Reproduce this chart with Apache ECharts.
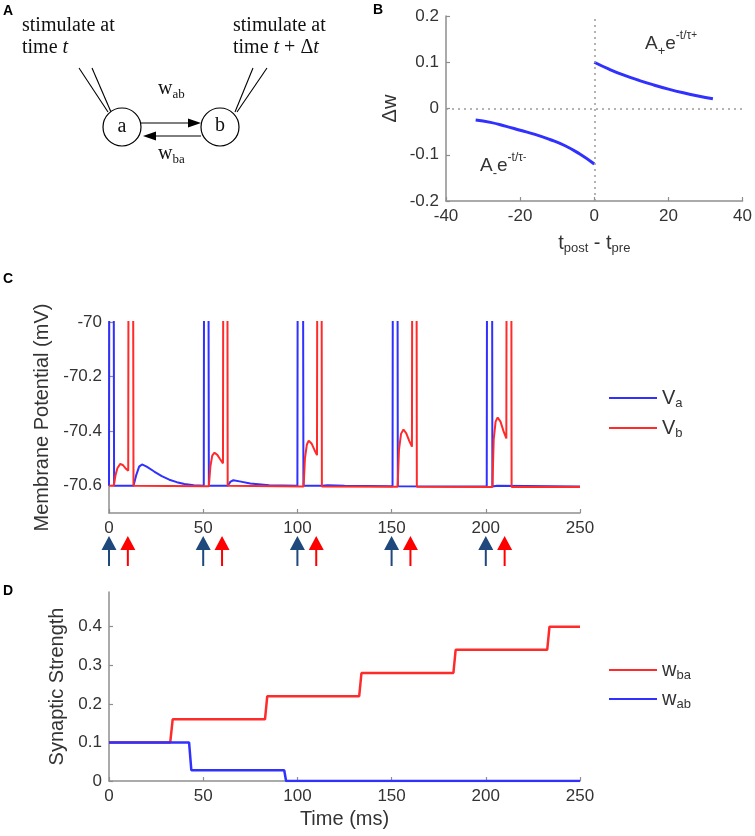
<!DOCTYPE html>
<html><head><meta charset="utf-8">
<script src="https://cdn.jsdelivr.net/npm/echarts@6/dist/echarts.min.js"></script>
<style>html,body{margin:0;padding:0;background:#fff}#c{width:755px;height:836px}</style>
</head><body><div id="c"></div>
<script>
// ---------- Panel B: STDP window ----------
const stdpNegT = [-32, -28, -24, -20, -16, -12, -8, -4, 0];
const stdpNegV = [-0.025, -0.03, -0.038, -0.047, -0.056, -0.067, -0.08, -0.098, -0.12];
const stdpPosT = [0, 4, 8, 12, 16, 20, 24, 28, 32];
const stdpPosV = [0.1, 0.085, 0.072, 0.061, 0.051, 0.042, 0.034, 0.027, 0.021];
const bXTicks = [-40, -20, 0, 20, 40];
const bYTicks = [-0.2, -0.1, 0, 0.1, 0.2];

// ---------- Panel C: membrane potentials ----------
const vaT = [0, 0.3, 2.3, 2.7, 13, 14.5, 16, 17.5, 20, 24, 28, 32, 36, 40, 45, 50.3, 50.6, 52.6, 53,
  63, 64.5, 66, 70, 75, 85, 100, 100.3, 102.8, 103.2, 113, 116, 125, 150.5, 150.8, 153, 153.3,
  200.5, 200.8, 203.2, 203.5, 206, 250];
const vaV = [-70.6, -69, -69, -70.6, -70.6, -70.56, -70.53, -70.522, -70.53, -70.548, -70.565, -70.578, -70.587, -70.594, -70.598, -70.6, -69, -69, -70.6,
  -70.6, -70.585, -70.58, -70.585, -70.592, -70.598, -70.6, -69, -69, -70.6, -70.6, -70.598, -70.6, -70.602, -69, -69, -70.602,
  -70.603, -69, -69, -70.603, -70.6, -70.603];
const vbT = [0, 2.5, 3.5, 4.5, 6, 7.5, 9, 10.2, 10.5, 12.6, 13,
  53, 53.8, 54.8, 56, 57.5, 59, 60.5, 60.8, 62.7, 63,
  103.3, 104, 105, 106, 107.5, 109, 110.4, 110.7, 112.7, 113,
  153.2, 153.9, 155, 156.3, 157.8, 159.3, 160.8, 161.1, 163.1, 163.4,
  203.5, 204.2, 205.2, 206.3, 207.8, 209.4, 210.9, 211.2, 213.4, 213.7, 250];
const vbV = [-70.6, -70.6, -70.56, -70.535, -70.52, -70.525, -70.538, -70.545, -69, -69, -70.6,
  -70.602, -70.53, -70.49, -70.479, -70.487, -70.503, -70.518, -69, -69, -70.6,
  -70.603, -70.5, -70.45, -70.435, -70.445, -70.468, -70.488, -69, -69, -70.603,
  -70.604, -70.47, -70.41, -70.394, -70.408, -70.435, -70.457, -69, -69, -70.604,
  -70.605, -70.43, -70.365, -70.35, -70.365, -70.4, -70.427, -69, -69, -70.605, -70.605];
const cXTicks = [0, 50, 100, 150, 200, 250];
const cYTicks = [-70.6, -70.4, -70.2, -70];

// stimulation arrows
const stimA = [0, 50, 100, 150, 200];
const stimB = [10, 60, 110, 160, 210];

// ---------- Panel D: synaptic strengths ----------
const wbaT = [0, 32.5, 33.8, 82.8, 84, 132.8, 134, 182.8, 184, 232.6, 233.8, 250];
const wbaV = [0.1, 0.1, 0.16, 0.16, 0.22, 0.22, 0.28, 0.28, 0.34, 0.34, 0.40, 0.40];
const wabT = [0, 42.5, 43.7, 93, 94, 250];
const wabV = [0.1, 0.1, 0.028, 0.028, 0, 0];
const dYTicks = [0, 0.1, 0.2, 0.3, 0.4];

const BLUE = '#3030ff', RED = '#ff2b2b', AXC = '#8e8e8e', TXT = '#333';
const SANS = '"Liberation Sans", Arial, sans-serif';
const SERIF = '"Liberation Serif", "Times New Roman", serif';
const pairs = (t, v) => t.map((x, i) => [x, v[i]]);

function axisBase(extra) {
  return Object.assign({
    type: 'value',
    axisLine: { show: true, onZero: false, lineStyle: { color: AXC, width: 1.5 } },
    axisTick: { show: true, inside: true, length: 4, lineStyle: { color: AXC, width: 1.2 } },
    splitLine: { show: false },
    axisLabel: { color: TXT, fontSize: 17, fontFamily: SANS, margin: 7 },
    nameLocation: 'middle',
    nameTextStyle: { color: TXT, fontSize: 20, fontFamily: SANS }
  }, extra);
}

const subRich = {
  m: { fontSize: 20, fontFamily: SANS, color: TXT, lineHeight: 24 },
  s: { fontSize: 13, fontFamily: SANS, color: TXT, lineHeight: 12, verticalAlign: 'bottom' }
};
const legendNames = { Va: '{m|V}{s|a}', Vb: '{m|V}{s|b}', wba: '{m|w}{s|ba}', wab: '{m|w}{s|ab}' };

const arrowPath = 'path://M7.5,0L15,14L8.5,14L8.5,30L6.5,30L6.5,14L0,14Z';

function annot(x, y, sign) {
  return {
    type: 'text', x: x, y: y,
    style: {
      text: '{b|A}{sb|' + sign + '}{b|e}{sp|-t/τ}{sps|' + sign + '}',
      fill: TXT, align: 'left', verticalAlign: 'middle',
      rich: {
        b: { fontSize: 19, fontFamily: SANS, fill: TXT, lineHeight: 28 },
        sb: { fontSize: 13, fontFamily: SANS, fill: TXT, lineHeight: 13, verticalAlign: 'bottom' },
        sp: { fontSize: 12, fontFamily: SANS, fill: TXT, lineHeight: 13, verticalAlign: 'top' },
        sps: { fontSize: 10, fontFamily: SANS, fill: TXT, lineHeight: 21, verticalAlign: 'top' }
      }
    }
  };
}
const serifRich = {
  n: { fontSize: 20, fontFamily: SERIF, fill: '#111' },
  i: { fontSize: 20, fontFamily: SERIF, fontStyle: 'italic', fill: '#111' },
  w: { fontSize: 20, fontFamily: SERIF, fill: '#111', lineHeight: 24 },
  s: { fontSize: 13, fontFamily: SERIF, fill: '#111', lineHeight: 12, verticalAlign: 'bottom' }
};
function letter(t, x, y) {
  return { type: 'text', x: x, y: y, style: { text: t, fontSize: 14, fontWeight: 'bold', fontFamily: SANS, fill: '#000', verticalAlign: 'middle' } };
}
function ln(x1, y1, x2, y2) {
  return { type: 'line', shape: { x1, y1, x2, y2 }, style: { stroke: '#000', lineWidth: 1.1 } };
}

const option = {
  animation: false,
  backgroundColor: '#fff',
  grid: [
    { left: 446, top: 16, width: 297, height: 185 },
    { left: 109, top: 322, width: 471, height: 191 },
    { left: 109, top: 536, width: 471, height: 30 },
    { left: 109, top: 592, width: 471, height: 189 }
  ],
  xAxis: [
    axisBase({ gridIndex: 0, min: -40, max: 40, interval: 20, name: '{m|t}{s|post}{m| - t}{s|pre}', nameGap: 30,
      nameTextStyle: { rich: subRich } }),
    axisBase({ gridIndex: 1, min: 0, max: 250, interval: 50 }),
    { type: 'value', gridIndex: 2, min: 0, max: 250, show: false },
    axisBase({ gridIndex: 3, min: 0, max: 250, interval: 50, name: 'Time (ms)', nameGap: 28 })
  ],
  yAxis: [
    axisBase({ gridIndex: 0, min: -0.2, max: 0.2, interval: 0.1, name: 'Δw', nameGap: 46 }),
    axisBase({ gridIndex: 1, min: -70.7, max: -70, name: 'Membrane Potential (mV)', nameGap: 54,
      axisLabel: { color: TXT, fontSize: 17, fontFamily: SANS, margin: 7, customValues: cYTicks },
      axisTick: { show: true, inside: true, length: 4, lineStyle: { color: AXC, width: 1.2 }, customValues: cYTicks } }),
    { type: 'value', gridIndex: 2, min: 0, max: 1, show: false },
    axisBase({ gridIndex: 3, min: 0, max: 0.49, name: 'Synaptic Strength', nameGap: 42,
      axisLabel: { color: TXT, fontSize: 17, fontFamily: SANS, margin: 7, customValues: dYTicks },
      axisTick: { show: true, inside: true, length: 4, lineStyle: { color: AXC, width: 1.2 }, customValues: dYTicks } })
  ],
  legend: [
    { data: ['Va', 'Vb'], left: 604, top: 383, orient: 'vertical', icon: 'rect', itemWidth: 48, itemHeight: 2, itemGap: 8,
      selectedMode: false, formatter: n => legendNames[n], textStyle: { rich: subRich } },
    { data: ['wba', 'wab'], left: 604, top: 655, orient: 'vertical', icon: 'rect', itemWidth: 48, itemHeight: 2, itemGap: 7,
      selectedMode: false, formatter: n => legendNames[n], textStyle: { rich: subRich } }
  ],
  series: [
    { type: 'line', name: 'stdpNeg', xAxisIndex: 0, yAxisIndex: 0, data: pairs(stdpNegT, stdpNegV), smooth: true, symbol: 'none',
      lineStyle: { color: BLUE, width: 3 } },
    { type: 'line', name: 'stdpPos', xAxisIndex: 0, yAxisIndex: 0, data: pairs(stdpPosT, stdpPosV), smooth: true, symbol: 'none',
      lineStyle: { color: BLUE, width: 3 },
      markLine: { silent: true, symbol: 'none', label: { show: false },
        lineStyle: { color: '#9a9a9a', type: [2, 4], width: 1.5 },
        data: [{ xAxis: 0 }, { yAxis: 0 }] } },
    { type: 'line', name: 'Va', xAxisIndex: 1, yAxisIndex: 1, data: pairs(vaT, vaV), symbol: 'none', clip: true,
      color: BLUE, lineStyle: { color: BLUE, width: 2 } },
    { type: 'line', name: 'Vb', xAxisIndex: 1, yAxisIndex: 1, data: pairs(vbT, vbV), symbol: 'none', clip: true,
      color: RED, lineStyle: { color: RED, width: 2 } },
    { type: 'scatter', name: 'stimA', xAxisIndex: 2, yAxisIndex: 2, data: stimA.map(t => [t, 0.5]),
      symbol: arrowPath, symbolSize: [15, 30], itemStyle: { color: '#1f497d', opacity: 1 }, clip: false },
    { type: 'scatter', name: 'stimB', xAxisIndex: 2, yAxisIndex: 2, data: stimB.map(t => [t, 0.5]),
      symbol: arrowPath, symbolSize: [15, 30], itemStyle: { color: '#ff0000', opacity: 1 }, clip: false },
    { type: 'line', name: 'wba', xAxisIndex: 3, yAxisIndex: 3, data: pairs(wbaT, wbaV), symbol: 'none',
      color: RED, lineStyle: { color: RED, width: 2.5 } },
    { type: 'line', name: 'wab', xAxisIndex: 3, yAxisIndex: 3, data: pairs(wabT, wabV), symbol: 'none',
      color: BLUE, lineStyle: { color: BLUE, width: 2.5 } }
  ],
  graphic: [
    letter('A', 3, 11), letter('B', 373, 10), letter('C', 3, 279), letter('D', 3, 591),
    { type: 'text', x: 22, y: 26, style: { text: 'stimulate at', font: '20px ' + SERIF, fill: '#111', verticalAlign: 'middle' } },
    { type: 'text', x: 22, y: 48, style: { text: '{n|time }{i|t}', rich: serifRich, verticalAlign: 'middle' } },
    { type: 'text', x: 233, y: 26, style: { text: 'stimulate at', font: '20px ' + SERIF, fill: '#111', verticalAlign: 'middle' } },
    { type: 'text', x: 233, y: 48, style: { text: '{n|time }{i|t}{n| + Δ}{i|t}', rich: serifRich, verticalAlign: 'middle' } },
    ln(79, 68, 108, 112), ln(92, 68, 111, 112), ln(253, 68, 235, 112), ln(267, 68, 237, 112),
    { type: 'circle', shape: { cx: 122, cy: 127, r: 19 }, style: { fill: '#fff', stroke: '#000', lineWidth: 1.2 } },
    { type: 'circle', shape: { cx: 220, cy: 127, r: 19 }, style: { fill: '#fff', stroke: '#000', lineWidth: 1.2 } },
    { type: 'text', x: 122, y: 127, style: { text: 'a', font: '20px ' + SERIF, fill: '#111', align: 'center', verticalAlign: 'middle' } },
    { type: 'text', x: 220, y: 126, style: { text: 'b', font: '20px ' + SERIF, fill: '#111', align: 'center', verticalAlign: 'middle' } },
    ln(141, 123, 190, 123),
    { type: 'polygon', shape: { points: [[188, 118.5], [201, 123], [188, 127.5]] }, style: { fill: '#000' } },
    ln(201, 136, 155, 136),
    { type: 'polygon', shape: { points: [[156, 131.5], [143, 136], [156, 140.5]] }, style: { fill: '#000' } },
    { type: 'text', x: 158, y: 89, style: { text: '{w|w}{s|ab}', rich: serifRich, verticalAlign: 'middle' } },
    { type: 'text', x: 158, y: 154, style: { text: '{w|w}{s|ba}', rich: serifRich, verticalAlign: 'middle' } },
    annot(645, 44, '+'),
    annot(480, 166, '-')
  ]
};
echarts.init(document.getElementById('c'), null, { renderer: 'canvas' }).setOption(option);
</script>
</body></html>
